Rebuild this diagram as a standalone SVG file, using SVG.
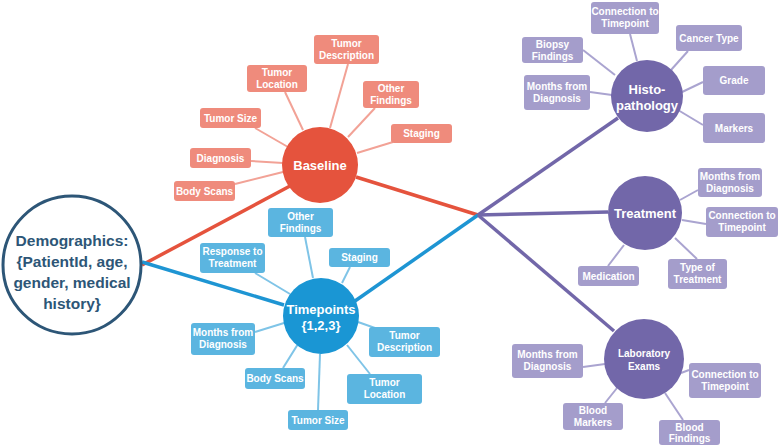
<svg xmlns="http://www.w3.org/2000/svg" width="778" height="447" viewBox="0 0 778 447">
<style>
text{font-family:"Liberation Sans",Arial,sans-serif;font-weight:bold;text-anchor:middle;fill:#fff}
.s{font-size:10px}
.big{font-size:13px}
.d{fill:#2d5677;font-size:15.5px}
.rb{fill:#ef8b7c}.bb{fill:#5bb5e0}.pb{fill:#a49dcb}
.rl{stroke:#f2a296;stroke-width:2}.bl{stroke:#7fc4e7;stroke-width:2}.pl{stroke:#aaa4d0;stroke-width:2}
.rm{stroke:#e5533d;stroke-width:3.5}.bm{stroke:#1e95d3;stroke-width:3.5}.pm{stroke:#7267a9;stroke-width:3.5}
</style>
<rect width="778" height="447" fill="#fff"/>
<g id="connectors" fill="none">
<line class="rm" x1="142" y1="265" x2="290" y2="186"/>
<line class="rm" x1="356" y1="177" x2="478" y2="215"/>
<line class="bm" x1="142" y1="262" x2="284" y2="305"/>
<line class="bm" x1="355" y1="301" x2="478" y2="215"/>
<line class="pm" x1="478" y1="215" x2="618" y2="118"/>
<line class="pm" x1="478" y1="215" x2="608" y2="212"/>
<line class="pm" x1="478" y1="215" x2="614" y2="331"/>
<line class="rl" x1="348" y1="64" x2="330" y2="128"/>
<line class="rl" x1="285" y1="92" x2="303" y2="130"/>
<line class="rl" x1="375" y1="108" x2="348" y2="137"/>
<line class="rl" x1="393" y1="142" x2="357" y2="153"/>
<line class="rl" x1="255" y1="128" x2="288" y2="147"/>
<line class="rl" x1="251" y1="161" x2="283" y2="163"/>
<line class="rl" x1="235" y1="184" x2="283" y2="172"/>
<line class="bl" x1="305" y1="237" x2="313" y2="278"/>
<line class="bl" x1="255" y1="273" x2="290" y2="294"/>
<line class="bl" x1="350" y1="267" x2="342" y2="283"/>
<line class="bl" x1="255" y1="332" x2="284" y2="323"/>
<line class="bl" x1="358" y1="322" x2="375" y2="328"/>
<line class="bl" x1="283" y1="368" x2="298" y2="344"/>
<line class="bl" x1="370" y1="374" x2="347" y2="345"/>
<line class="bl" x1="318" y1="410" x2="320" y2="354"/>
<line class="pl" x1="630" y1="34" x2="637" y2="61"/>
<line class="pl" x1="688" y1="51" x2="671" y2="70"/>
<line class="pl" x1="583" y1="50" x2="615" y2="75"/>
<line class="pl" x1="703" y1="82" x2="680" y2="93"/>
<line class="pl" x1="590" y1="92" x2="612" y2="95"/>
<line class="pl" x1="703" y1="125" x2="678" y2="110"/>
<line class="pl" x1="698" y1="190" x2="680" y2="200"/>
<line class="pl" x1="706" y1="224" x2="682" y2="220"/>
<line class="pl" x1="697" y1="259" x2="675" y2="238"/>
<line class="pl" x1="608" y1="266" x2="624" y2="245"/>
<line class="pl" x1="583" y1="367" x2="605" y2="364"/>
<line class="pl" x1="689" y1="370" x2="681" y2="373"/>
<line class="pl" x1="605" y1="403" x2="617" y2="388"/>
<line class="pl" x1="683" y1="420" x2="665" y2="393"/>
</g>
<g id="demographics">
<circle cx="72" cy="265" r="69" fill="#fff" stroke="#2d5677" stroke-width="3"/>
<text class="d" x="72" y="246">Demographics:</text>
<text class="d" x="72" y="267">{PatientId, age,</text>
<text class="d" x="72" y="288">gender, medical</text>
<text class="d" x="72" y="309">history}</text>
</g>
<g id="baseline">
<circle cx="320" cy="165" r="38" fill="#e5533d"/>
<text class="big" x="320" y="170">Baseline</text>
</g>
<g id="b-tumor-description"><rect class="rb" x="314" y="35" width="65" height="29" rx="3"/><text class="s" x="346.5" y="47">Tumor</text><text class="s" x="346.5" y="59">Description</text></g>
<g id="b-tumor-location"><rect class="rb" x="247" y="65" width="60" height="27" rx="3"/><text class="s" x="277" y="76">Tumor</text><text class="s" x="277" y="88">Location</text></g>
<g id="b-other-findings"><rect class="rb" x="363" y="81" width="56" height="27" rx="3"/><text class="s" x="391" y="92">Other</text><text class="s" x="391" y="104">Findings</text></g>
<g id="b-staging"><rect class="rb" x="391" y="124" width="61" height="19" rx="3"/><text class="s" x="421.5" y="137">Staging</text></g>
<g id="b-tumor-size"><rect class="rb" x="200" y="108" width="61" height="20" rx="3"/><text class="s" x="230.5" y="121.5">Tumor Size</text></g>
<g id="b-diagnosis"><rect class="rb" x="190" y="148" width="61" height="20" rx="3"/><text class="s" x="220.5" y="161.5">Diagnosis</text></g>
<g id="b-body-scans"><rect class="rb" x="174" y="181" width="61" height="20" rx="3"/><text class="s" x="204.5" y="194.5">Body Scans</text></g>
<g id="timepoints">
<circle cx="321" cy="316" r="38" fill="#1a96d4"/>
<text class="big" x="321" y="314">Timepoints</text>
<text class="big" x="321" y="330">{1,2,3}</text>
</g>
<g id="t-other-findings"><rect class="bb" x="268" y="208" width="65" height="29" rx="3"/><text class="s" x="300.5" y="220">Other</text><text class="s" x="300.5" y="232">Findings</text></g>
<g id="t-response"><rect class="bb" x="200" y="243" width="65" height="30" rx="3"/><text class="s" x="232.5" y="255">Response to</text><text class="s" x="232.5" y="267">Treatment</text></g>
<g id="t-staging"><rect class="bb" x="329" y="248" width="61" height="19" rx="3"/><text class="s" x="359.5" y="261">Staging</text></g>
<g id="t-months"><rect class="bb" x="191" y="323" width="64" height="32" rx="3"/><text class="s" x="223" y="336">Months from</text><text class="s" x="223" y="348">Diagnosis</text></g>
<g id="t-tumor-description"><rect class="bb" x="369" y="327" width="71" height="30" rx="3"/><text class="s" x="404.5" y="339">Tumor</text><text class="s" x="404.5" y="351">Description</text></g>
<g id="t-body-scans"><rect class="bb" x="245" y="368" width="60" height="21" rx="3"/><text class="s" x="275" y="382">Body Scans</text></g>
<g id="t-tumor-location"><rect class="bb" x="347" y="374" width="75" height="30" rx="3"/><text class="s" x="384.5" y="386">Tumor</text><text class="s" x="384.5" y="398">Location</text></g>
<g id="t-tumor-size"><rect class="bb" x="288" y="410" width="60" height="20" rx="3"/><text class="s" x="318" y="423.5">Tumor Size</text></g>
<g id="histopathology">
<circle cx="647" cy="96" r="36" fill="#7267a9"/>
<text class="big" x="647" y="94">Histo-</text>
<text class="big" x="647" y="110">pathology</text>
</g>
<g id="h-connection"><rect class="pb" x="591" y="2" width="68" height="32" rx="3"/><text class="s" x="625" y="15">Connection to</text><text class="s" x="625" y="27">Timepoint</text></g>
<g id="h-cancer-type"><rect class="pb" x="676" y="25" width="66" height="26" rx="3"/><text class="s" x="709" y="41.5">Cancer Type</text></g>
<g id="h-biopsy"><rect class="pb" x="522" y="37" width="61" height="26" rx="3"/><text class="s" x="552.5" y="48">Biopsy</text><text class="s" x="552.5" y="60">Findings</text></g>
<g id="h-grade"><rect class="pb" x="703" y="66" width="62" height="29" rx="3"/><text class="s" x="734" y="84">Grade</text></g>
<g id="h-months"><rect class="pb" x="524" y="75" width="66" height="35" rx="3"/><text class="s" x="557" y="90">Months from</text><text class="s" x="557" y="102">Diagnosis</text></g>
<g id="h-markers"><rect class="pb" x="703" y="113" width="62" height="30" rx="3"/><text class="s" x="734" y="132">Markers</text></g>
<g id="treatment">
<circle cx="645" cy="213" r="37" fill="#7267a9"/>
<text class="big" x="645" y="218">Treatment</text>
</g>
<g id="tr-months"><rect class="pb" x="698" y="168" width="64" height="29" rx="3"/><text class="s" x="730" y="180">Months from</text><text class="s" x="730" y="192">Diagnosis</text></g>
<g id="tr-connection"><rect class="pb" x="706" y="207" width="72" height="30" rx="3"/><text class="s" x="742" y="219">Connection to</text><text class="s" x="742" y="231">Timepoint</text></g>
<g id="tr-type"><rect class="pb" x="668" y="259" width="59" height="30" rx="3"/><text class="s" x="697.5" y="271">Type of</text><text class="s" x="697.5" y="283">Treatment</text></g>
<g id="tr-medication"><rect class="pb" x="578" y="266" width="61" height="20" rx="3"/><text class="s" x="608.5" y="279.5">Medication</text></g>
<g id="laboratory">
<circle cx="644" cy="359" r="40" fill="#7267a9"/>
<text class="s" x="644" y="357">Laboratory</text>
<text class="s" x="644" y="370">Exams</text>
</g>
<g id="l-months"><rect class="pb" x="512" y="344" width="71" height="34" rx="3"/><text class="s" x="547.5" y="358">Months from</text><text class="s" x="547.5" y="370">Diagnosis</text></g>
<g id="l-connection"><rect class="pb" x="689" y="363" width="72" height="35" rx="3"/><text class="s" x="725" y="378">Connection to</text><text class="s" x="725" y="390">Timepoint</text></g>
<g id="l-blood-markers"><rect class="pb" x="563" y="403" width="60" height="27" rx="3"/><text class="s" x="593" y="414">Blood</text><text class="s" x="593" y="426">Markers</text></g>
<g id="l-blood-findings"><rect class="pb" x="659" y="420" width="61" height="25" rx="3"/><text class="s" x="689.5" y="431">Blood</text><text class="s" x="689.5" y="442">Findings</text></g>
</svg>
